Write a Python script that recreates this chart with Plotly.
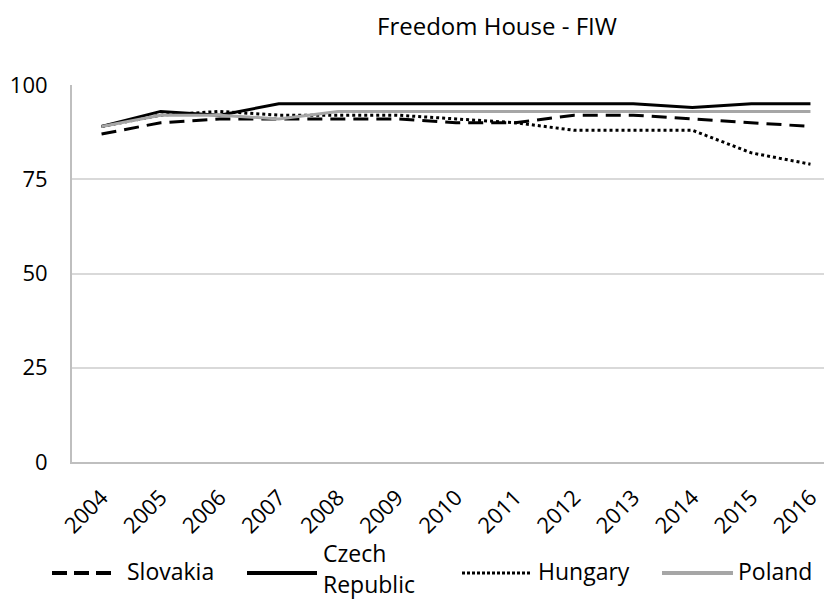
import plotly.graph_objects as go

years = list(range(2004, 2017))
slovakia = [87, 90, 91, 91, 91, 91, 90, 90, 92, 92, 91, 90, 89]
czech = [89, 93, 92, 95, 95, 95, 95, 95, 95, 95, 94, 95, 95]
hungary = [89, 92, 93, 92, 92, 92, 91, 90, 88, 88, 88, 82, 79]
poland = [89, 92, 92, 91, 93, 93, 93, 93, 93, 93, 93, 93, 93]

FONT = "Open Sans"
W, H = 832, 599
OFF = 8  # page body margin
L, R, T, B = 72 - OFF, 840 - OFF, 85 - OFF, 462 - OFF


# screen position -> paper position
def px(x):
    return (x - OFF - L) / (R - L)


def py(y):
    return (B - (y - OFF)) / (B - T)


series = [
    ("Slovakia", slovakia, "black", "15px,8px"),
    ("Czech Republic", czech, "black", "solid"),
    ("Hungary", hungary, "black", "3px,3px"),
    ("Poland", poland, "#a6a6a6", "solid"),
]

fig = go.Figure()
for name, vals, color, dash in series:
    fig.add_trace(go.Scatter(x=years, y=vals, mode="lines", name=name,
                             line=dict(color=color, width=3, dash=dash)))

# legend drawn by hand below the axis
legend = [
    (52, 111, 125, ["Slovakia"], "black", "15px,7px", 4),
    (247, 317, 321, ["Czech", "Republic"], "black", "solid", 4),
    (462, 531, 536, ["Hungary"], "black", "3px,2px", 3),
    (662, 733, 736, ["Poland"], "#a6a6a6", "solid", 4),
]
shapes = []
annotations = []
for x0, x1, tx, lines, color, dash, lw in legend:
    shapes.append(dict(type="line", xref="paper", yref="paper",
                       x0=px(x0), x1=px(x1), y0=py(573), y1=py(573),
                       line=dict(color=color, width=lw, dash=dash)))
    ys = [571] if len(lines) == 1 else [553, 584]
    for text, ty in zip(lines, ys):
        annotations.append(dict(xref="paper", yref="paper", x=px(tx), y=py(ty),
                                text=text, showarrow=False, xanchor="left", yanchor="middle",
                                font=dict(family=FONT, size=23, color="black")))

annotations.append(dict(xref="paper", yref="paper", x=px(497), y=py(25),
                        text="Freedom House - FIW", showarrow=False,
                        xanchor="center", yanchor="middle",
                        font=dict(family=FONT, size=24, color="black")))

fig.update_layout(
    width=W, height=H,
    margin=dict(l=L, r=W - R, t=T, b=H - B),
    plot_bgcolor="white", paper_bgcolor="white",
    showlegend=False,
    shapes=shapes, annotations=annotations,
    font=dict(family=FONT, size=22, color="black"),
)
fig.update_xaxes(range=[2003.5, 2016.5], tickvals=years, tickangle=-45,
                 showgrid=False, showline=True, linecolor="#bfbfbf", linewidth=2,
                 ticks="", ticklabelstandoff=12, tickfont=dict(size=22),
                 automargin=False)
fig.update_yaxes(range=[0, 100], tickvals=[0, 25, 50, 75, 100],
                 showgrid=True, gridcolor="#d9d9d9", gridwidth=1.5,
                 showline=True, linecolor="#bfbfbf", linewidth=2,
                 zeroline=False, ticks="", ticklabelstandoff=18, tickfont=dict(size=22),
                 automargin=False)

fig.write_html("out.html")
